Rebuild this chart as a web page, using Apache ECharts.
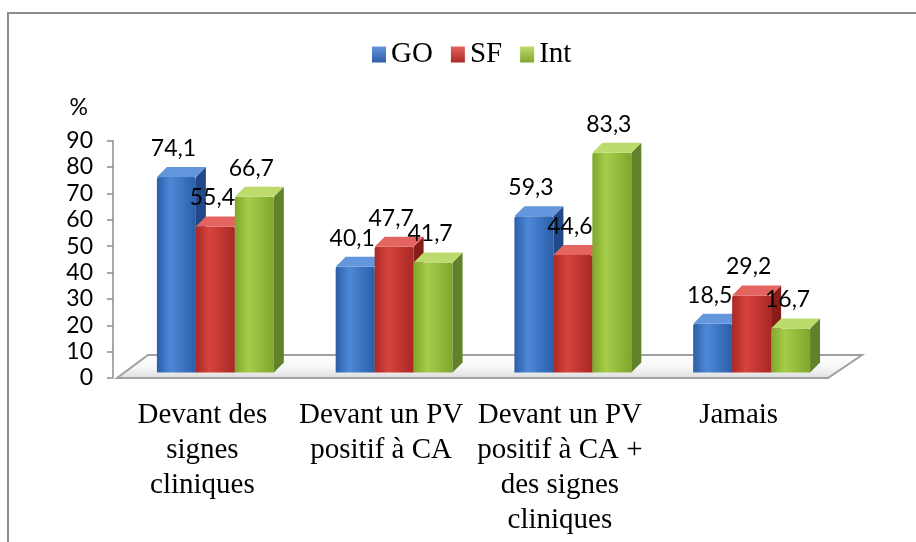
<!DOCTYPE html>
<html>
<head>
<meta charset="utf-8">
<script src="https://cdn.jsdelivr.net/npm/echarts@6/dist/echarts.min.js"></script>
<style>
    html, body { margin: 0; padding: 0; background: #fff; }
    #chart { width: 916px; height: 542px; }
</style>
</head>
<body>
<div id="chart"></div>
<script>
    let categories = [
        'Devant des\nsignes\ncliniques',
        'Devant un PV\npositif à CA',
        'Devant un PV\npositif à CA +\ndes signes\ncliniques',
        'Jamais'
    ]
    let seriesNames = ['GO', 'SF', 'Int']
    let goValues = [74.1, 40.1, 59.3, 18.5]
    let sfValues = [55.4, 47.7, 44.6, 29.2]
    let intValues = [66.7, 41.7, 83.3, 16.7]
    let yTicks = [0, 10, 20, 30, 40, 50, 60, 70, 80, 90]

    // front / top / side colours of the 3d bars
    let palette = [
        { dark: '#2c5ea8', light: '#4d89d8', top: '#6396dc', side: '#21498a' },
        { dark: '#a92824', light: '#d7433e', top: '#e4655f', side: '#861d1a' },
        { dark: '#80a72c', light: '#a6cc4a', top: '#bddb6c', side: '#61812a' }
    ]
    let grid = { left: 113, right: 88, top: 140.7, bottom: 164 }
    let depthX = 10
    let depthY = 10
    let lift = 5.5

    function fmt(v) {
        return String(v).replace('.', ',')
    }

    function frontGradient(c) {
        return new echarts.graphic.LinearGradient(0, 0, 1, 0, [
            { offset: 0, color: c.dark },
            { offset: 0.35, color: c.light },
            { offset: 1, color: c.dark }
        ])
    }

    function renderBar(params, api) {
        let s = params.seriesIndex
        let c = palette[s]
        let cat = api.value(0)
        let v = api.value(1)
        let top = api.coord([cat, v])
        let base = api.coord([cat, 0])
        let band = api.size([1, 0])[0]
        let bw = band * 0.218
        let x0 = top[0] - 1.5 * bw + s * bw + 13
        let y1 = top[1] - lift
        let y2 = base[1] - lift
        return {
            type: 'group',
            children: [
                {
                    type: 'rect',
                    shape: { x: x0, y: y1, width: bw, height: y2 - y1, r: [2, 2, 0, 0] },
                    style: { fill: frontGradient(c) }
                },
                {
                    type: 'polygon',
                    shape: { points: [[x0 + bw, y1], [x0 + bw + depthX, y1 - depthY], [x0 + bw + depthX, y2 - depthY], [x0 + bw, y2]] },
                    style: { fill: c.side }
                },
                {
                    type: 'polygon',
                    shape: { points: [[x0, y1], [x0 + depthX, y1 - depthY], [x0 + bw + depthX, y1 - depthY], [x0 + bw, y1]] },
                    style: { fill: c.top }
                },
                {
                    type: 'text',
                    z2: 100,
                    style: {
                        text: fmt(v),
                        x: x0 + bw / 2 - 3,
                        y: y1 - depthY - 18.5,
                        align: 'center',
                        verticalAlign: 'middle',
                        fontFamily: 'Lato',
                        fontSize: 23,
                        fill: '#000'
                    }
                }
            ]
        }
    }

    function makeSeries(name, values, i) {
        return {
            name: name,
            type: 'custom',
            z: 2,
            renderItem: renderBar,
            itemStyle: {
                color: new echarts.graphic.LinearGradient(0, 0, 0, 1, [
                    { offset: 0, color: palette[i].top },
                    { offset: 1, color: palette[i].dark }
                ])
            },
            encode: { x: 0, y: 1 },
            data: values.map((v, k) => [k, v])
        }
    }

    let chart = echarts.init(document.getElementById('chart'))
    let options = {
        backgroundColor: '#fff',
        animation: false,
        legend: {
            data: seriesNames,
            left: 372,
            top: 40,
            padding: 0,
            icon: 'rect',
            itemWidth: 14,
            itemHeight: 16,
            itemGap: 18,
            textStyle: {
                fontFamily: 'Liberation Serif',
                fontSize: 29,
                color: '#000'
            }
        },
        grid: grid,
        xAxis: {
            type: 'category',
            data: categories,
            axisLine: { show: false },
            axisTick: { show: false },
            axisLabel: {
                interval: 0,
                margin: 20,
                fontFamily: 'Liberation Serif',
                fontSize: 29,
                lineHeight: 35,
                color: '#000'
            }
        },
        yAxis: {
            type: 'value',
            min: yTicks[0],
            max: yTicks[yTicks.length - 1],
            interval: yTicks[1] - yTicks[0],
            name: '%',
            nameGap: 22,
            nameTextStyle: {
                fontFamily: 'Lato',
                fontSize: 23,
                color: '#000',
                align: 'right',
                padding: [0, 25, 0, 0]
            },
            axisLine: { show: true, lineStyle: { color: '#8c8c8c', width: 1.5 } },
            axisTick: { show: true, length: 6, lineStyle: { color: '#8c8c8c', width: 1.5 } },
            splitLine: { show: false },
            axisLabel: {
                margin: 20,
                fontFamily: 'Lato',
                fontSize: 23,
                color: '#000'
            }
        },
        series: [
            makeSeries(seriesNames[0], goValues, 0),
            makeSeries(seriesNames[1], sfValues, 1),
            makeSeries(seriesNames[2], intValues, 2)
        ]
    }
    chart.setOption(options)

    // floor of the 3d plot + outer frame
    let y0 = chart.convertToPixel({ yAxisIndex: 0 }, 0)
    let fl = grid.left + 4
    let fr = 916 - grid.right
    chart.setOption({
        graphic: [
            {
                type: 'polygon',
                z: 1,
                shape: { points: [[fl, y0], [fr, y0], [fr + 34, y0 - 23], [fl + 31, y0 - 23]] },
                style: {
                    fill: new echarts.graphic.LinearGradient(0, 0, 0, 1, [
                        { offset: 0, color: '#ffffff' },
                        { offset: 0.55, color: '#f6f6f6' },
                        { offset: 1, color: '#dcdcdc' }
                    ]),
                    stroke: '#a0a0a0',
                    lineWidth: 2
                }
            },
            {
                type: 'polyline',
                z: 1,
                shape: { points: [[8, 542], [8, 13], [916, 13]] },
                style: { stroke: '#8c8c8c', lineWidth: 2, fill: null }
            }
        ]
    })
</script>
</body>
</html>
